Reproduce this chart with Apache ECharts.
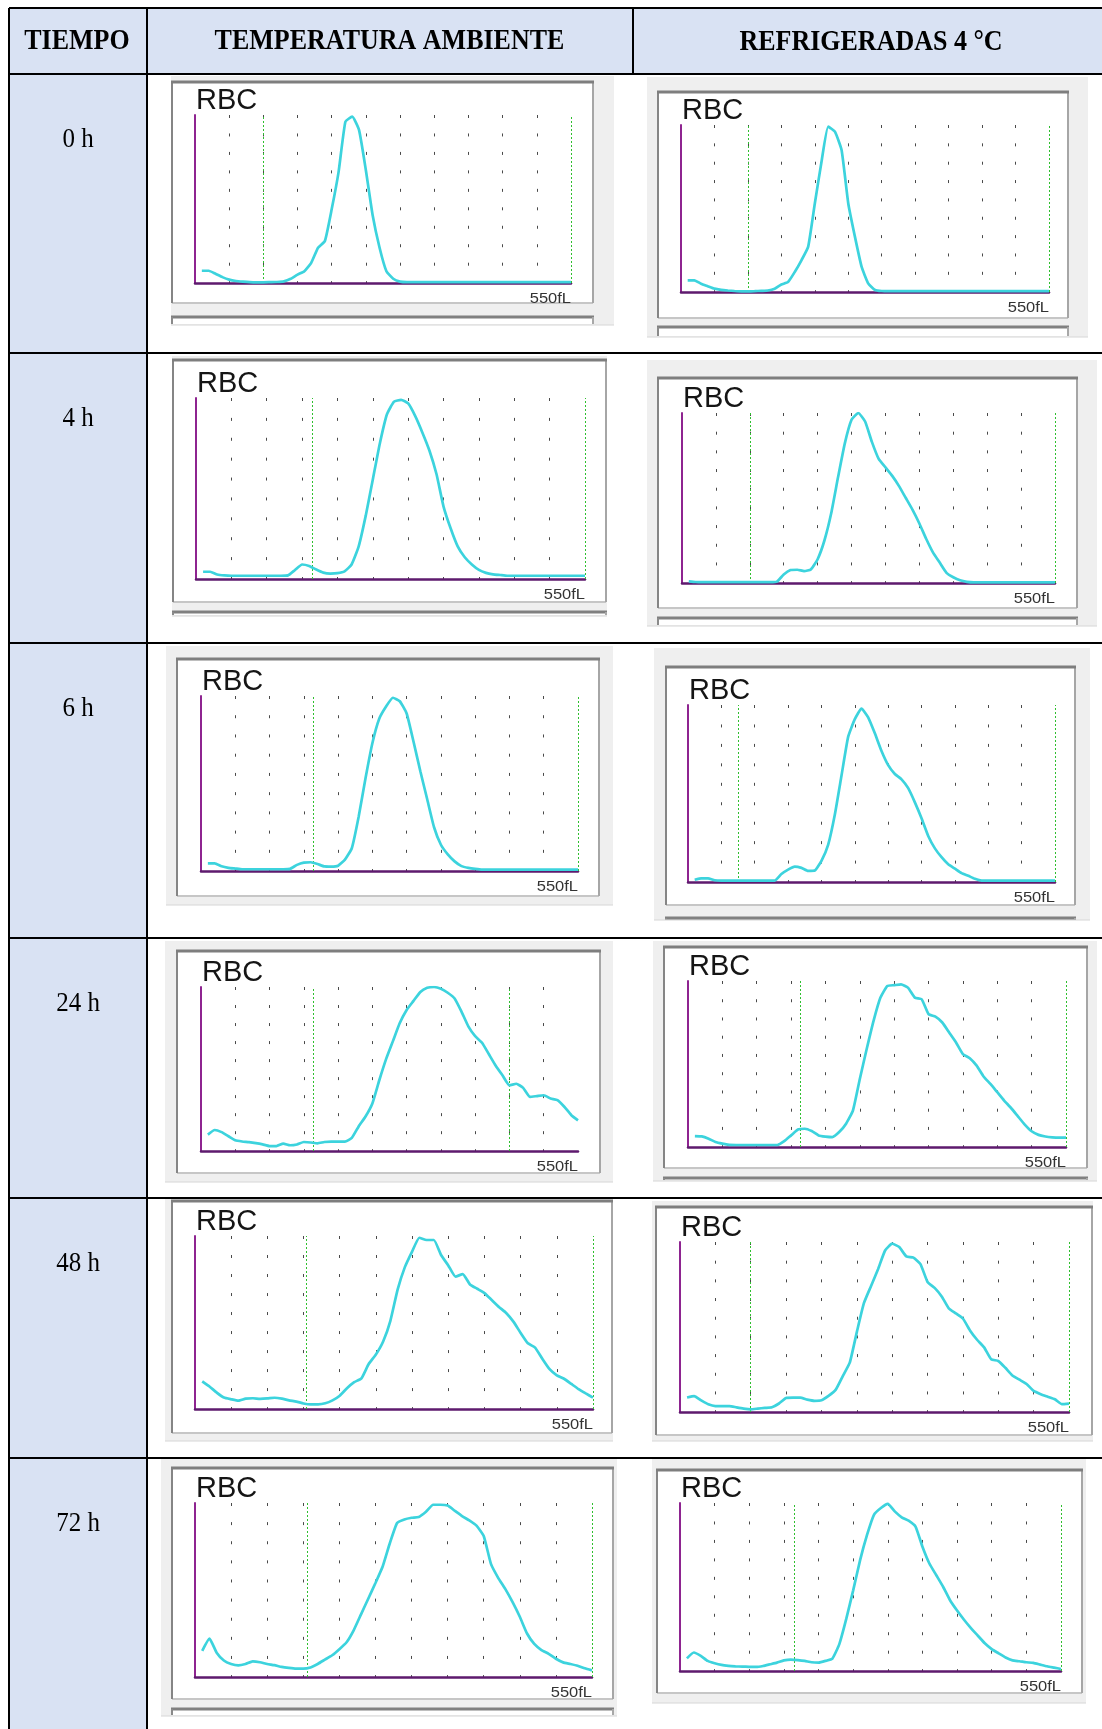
<!DOCTYPE html>
<html>
<head>
<meta charset="utf-8">
<title>Histogramas RBC</title>
<script src="https://cdn.jsdelivr.net/npm/echarts@6/dist/echarts.min.js"></script>
<style>
  html, body { margin: 0; padding: 0; background: #ffffff; }
  #main { width: 1102px; height: 1729px; }
</style>
</head>
<body>
<div id="main"></div>
<script>
// ---- Table texts ----
const encabezados = ['TIEMPO', 'TEMPERATURA AMBIENTE', 'REFRIGERADAS 4 °C'];
const tiempos = ['0 h', '4 h', '6 h', '24 h', '48 h', '72 h'];
const etiquetaHistograma = 'RBC';

// ---- Histogram axis (fL) ----
const volumenMax = 550;
const volumenFl = [10, 20, 30, 40, 50, 60, 70, 80, 90, 100, 110, 120, 130, 140, 150, 160, 170, 180, 190, 200,
  210, 220, 230, 240, 250, 260, 270, 280, 290, 300, 310, 320, 330, 340, 350, 360, 370, 380, 390, 400,
  410, 420, 430, 440, 450, 460, 470, 480, 490, 500, 510, 520, 530, 540, 550];

// ---- Relative frequency (% of peak) at each volumenFl bin ----
const ambiente0h = [7.3, 7.3, 5.5, 3.5, 2, 1.2, 0.8, 0.5, 0.4, 0.4, 0.5, 0.6, 1, 2.5, 5, 7, 12, 21, 25, 44,
  66, 96, 99, 91, 67, 40, 21, 7, 2.5, 0.8, 0.5, 0.5, 0.5, 0.5, 0.5, 0.5, 0.5, 0.5, 0.5, 0.5,
  0.5, 0.5, 0.5, 0.5, 0.5, 0.5, 0.5, 0.5, 0.5, 0.5, 0.5, 0.5, 0.5, 0.5, 0.5];
const refrigeradas0h = [7, 7, 5, 3.5, 2, 1.3, 0.9, 0.6, 0.4, 0.4, 0.5, 0.7, 0.9, 2, 4.5, 6, 12, 19, 27, 53,
  78, 99, 96, 85, 53, 33, 15, 5, 1.2, 0.6, 0.5, 0.5, 0.5, 0.5, 0.5, 0.5, 0.5, 0.5, 0.5, 0.5,
  0.5, 0.5, 0.5, 0.5, 0.5, 0.5, 0.5, 0.5, 0.5, 0.5, 0.5, 0.5, 0.5, 0.5, 0.5];
const ambiente4h = [4, 4, 2.5, 2, 1.8, 1.8, 1.8, 1.8, 1.8, 1.8, 1.8, 1.8, 2, 5, 8, 7.2, 5.2, 3.5, 3, 3.2,
  4.2, 8, 18, 35, 55, 75, 91, 98, 99, 97, 90, 81, 71, 58, 40, 28, 18, 12, 8, 5,
  3.4, 2.6, 2.2, 1.8, 1.8, 1.8, 1.8, 1.8, 1.8, 1.8, 1.8, 1.8, 1.8, 1.8, 1.8];
const refrigeradas4h = [1, 0.6, 0.5, 0.5, 0.5, 0.5, 0.5, 0.5, 0.5, 0.5, 0.5, 0.5, 0.5, 0.8, 5, 7.6, 7.8, 7, 8, 14,
  25, 41, 62, 82, 96, 100, 95, 83, 73, 68, 63, 57, 50, 43, 35, 26, 18, 12, 6, 3.4,
  1.6, 0.7, 0.4, 0.4, 0.4, 0.4, 0.4, 0.4, 0.4, 0.4, 0.4, 0.4, 0.4, 0.4, 0.4];
const ambiente6h = [4.4, 4.4, 2.7, 1.8, 1.4, 1, 1, 1, 1, 1, 1, 1, 1.2, 3.5, 4.8, 5, 4, 2.6, 2.5, 3,
  6.5, 13, 31, 53, 73, 87, 94, 99, 97, 90, 74, 57, 41, 25, 15, 9.5, 5.5, 2.8, 1.8, 1.2,
  0.8, 0.8, 0.8, 0.8, 0.8, 0.8, 0.8, 0.8, 0.8, 0.8, 0.8, 0.8, 0.8, 0.8, 0.8];
const refrigeradas6h = [1.3, 2, 2, 1, 0.8, 0.8, 0.8, 0.8, 0.8, 0.8, 0.8, 0.8, 0.8, 4.5, 7, 8.7, 8, 6.3, 6.5, 12,
  21, 38, 60, 82, 92, 98, 93, 84, 74, 66, 61, 58, 53, 45, 36, 26, 19, 14, 10, 7.5,
  5, 3.5, 1.8, 0.8, 0.8, 0.8, 0.8, 0.8, 0.8, 0.8, 0.8, 0.8, 0.8, 0.8, 0.8];
const ambiente24h = [10, 12.8, 11.5, 9, 6.5, 5.8, 5.4, 4.8, 4, 3, 3, 4.5, 3.5, 4, 5.5, 5.2, 4.7, 5.5, 5.7, 5.7,
  5.7, 8, 15, 21, 29, 43, 56, 67, 78, 86, 91.5, 97, 99.5, 100, 99, 96.5, 93, 85, 76, 70,
  66, 59, 52, 46, 40, 41, 38.5, 33, 33.5, 34, 32, 31, 27, 22, 18.7];
const refrigeradas24h = [6.6, 6.4, 5, 3, 2, 1.3, 1.2, 1.2, 1.2, 1.2, 1.2, 1.2, 1.2, 3.5, 7, 10.5, 11, 9.6, 7, 6.3,
  6, 9, 14, 22, 41, 59, 76, 90, 97, 97.5, 98, 96, 90, 89, 80, 78.5, 75, 69, 63, 56,
  53.5, 49, 42.5, 38, 33, 28, 23.5, 18.5, 13.5, 9.5, 7.3, 6.3, 5.8, 5.6, 5.6];
const ambiente48h = [16, 13, 9.5, 6.6, 5.6, 4.8, 6, 6.2, 5.9, 6.1, 6.5, 6, 5, 4.3, 3.2, 2.7, 2.7, 3.3, 5, 7.7,
  12, 15.5, 17.7, 26, 31.5, 39, 51, 69, 82, 91, 99, 97.7, 97.7, 89, 83, 76.5, 78, 72, 69.5, 67,
  63, 59, 55.5, 50.5, 44, 38, 35.5, 29, 23, 19.5, 17.5, 14.5, 11.5, 9, 6.6];
const refrigeradas48h = [8.5, 9.3, 6.8, 4.5, 3.5, 3.5, 3.5, 2.7, 2, 1.6, 2, 2.4, 2.8, 5, 8.2, 8.4, 8.4, 7.3, 6.6, 6.9,
  9.5, 13, 21, 29, 47, 64, 74, 84, 95, 99, 97, 91.5, 90.8, 87, 76.5, 73, 68, 61, 58, 55,
  48, 42.5, 38, 31, 30, 26, 21.5, 19, 16.5, 12.4, 10.5, 9, 7.5, 4.6, 4.9];
const ambiente72h = [15, 22, 14, 9.5, 7.5, 6.7, 7.5, 9, 8.5, 7.5, 6.8, 5.8, 5.2, 4.8, 4.8, 5.5, 7.5, 10, 12.5, 16,
  20, 27, 36, 45, 54, 63.5, 77, 88.5, 90.5, 91.5, 92, 95, 99, 99, 98.5, 95.5, 92.5, 90, 87, 81,
  65, 57, 50.5, 43, 34.6, 25, 19, 15.5, 13.3, 10.5, 8.4, 7.5, 6.5, 5, 3.8];
const refrigeradas72h = [7.5, 11, 9, 6, 4.6, 3.6, 3.1, 2.8, 2.6, 2.5, 2.4, 3, 4, 5, 6.3, 6.8, 6.5, 6, 5.2, 5,
  6, 7.4, 16, 31, 48, 66, 81, 93, 97, 99.5, 95, 91.5, 89.5, 86, 74, 64, 57, 50, 42, 36,
  30.5, 25.5, 21, 16.5, 13, 10.5, 8, 6.3, 5.8, 5.2, 4.8, 3.8, 2.8, 2, 1.2];

// ---- Discriminator positions (fL) ----
const discriminadoresAmbiente = [[100, 550], [165, 550], [164, 550], [164, 450], [154, 550], [155, 550]];
const discriminadoresRefrigeradas = [[100, 550], [100, 550], [75, 550], [164, 550], [100, 550], [165, 550]];

const curvasAmbiente = [ambiente0h, ambiente4h, ambiente6h, ambiente24h, ambiente48h, ambiente72h];
const curvasRefrigeradas = [refrigeradas0h, refrigeradas4h, refrigeradas6h, refrigeradas24h, refrigeradas48h, refrigeradas72h];

// ---- Page layout (pixels) ----
const tabla = { left: 9, top: 8, right: 1102, bottom: 1729, headerBottom: 74, col1: 147, col2: 633,
  rowTops: [74, 353, 643, 938, 1198, 1458] };

// Each panel: screenshot box, window frame, plot rect [x, y, w, h], top of the next window (or null)
const paneles = [
  { img: [171, 76, 443, 249], frame: [172, 82, 421, 221], plot: [195, 115, 376, 168], plt: 317 },
  { img: [647, 77, 441, 260], frame: [658, 92, 410, 226], plot: [681, 125, 368, 167], plt: 327 },
  { img: [172, 356, 435, 260], frame: [173, 360, 433, 242], plot: [196, 398, 389, 181], plt: 612 },
  { img: [647, 360, 450, 266], frame: [658, 378, 419, 230], plot: [682, 413, 373, 170], plt: 618 },
  { img: [166, 646, 447, 259], frame: [177, 659, 422, 237], plot: [201, 696, 377, 175], plt: null },
  { img: [654, 648, 436, 272], frame: [666, 667, 409, 238], plot: [688, 705, 367, 177], plt: 918 },
  { img: [165, 941, 448, 241], frame: [177, 951, 423, 222], plot: [201, 987, 377, 164], plt: null },
  { img: [653, 941, 444, 240], frame: [664, 947, 423, 221], plot: [688, 981, 378, 166], plt: 1178 },
  { img: [165, 1199, 448, 242], frame: [172, 1201, 440, 232], plot: [195, 1236, 398, 173], plt: null },
  { img: [652, 1201, 441, 240], frame: [656, 1207, 436, 228], plot: [680, 1242, 389, 170], plt: null },
  { img: [161, 1459, 456, 257], frame: [172, 1468, 441, 231], plot: [195, 1503, 397, 174], plt: 1709 },
  { img: [652, 1459, 434, 244], frame: [657, 1470, 425, 223], plot: [680, 1503, 381, 168], plt: null }
];

const SERIF = '"Liberation Serif", "Times New Roman", serif';
const SANS = '"Liberation Sans", Arial, sans-serif';

const graphics = [];
function line(x1, y1, x2, y2, stroke, lineWidth, z) {
  graphics.push({ type: 'line', shape: { x1, y1, x2, y2 }, style: { stroke, lineWidth }, z, silent: true });
}
function rect(x, y, width, height, fill, z) {
  graphics.push({ type: 'rect', shape: { x, y, width, height }, style: { fill }, z, silent: true });
}

// Table shading
rect(tabla.left, tabla.top, tabla.right - tabla.left, tabla.headerBottom - tabla.top, '#d9e2f3', -40);
rect(tabla.left, tabla.headerBottom, tabla.col1 - tabla.left, tabla.bottom - tabla.headerBottom, '#d9e2f3', -40);

// Table rules
line(tabla.left, tabla.top, tabla.right, tabla.top, '#000', 2, -35);
line(tabla.left, tabla.headerBottom, tabla.right, tabla.headerBottom, '#000', 2, -35);
tabla.rowTops.slice(1).forEach(y => line(tabla.left, y, tabla.right, y, '#000', 2, -35));
line(tabla.left, tabla.top, tabla.left, tabla.bottom, '#000', 2, -35);
line(tabla.col1, tabla.top, tabla.col1, tabla.bottom, '#000', 2, -35);
line(tabla.col2, tabla.top, tabla.col2, tabla.headerBottom, '#000', 2, -35);

// Header texts
const headerCenters = [[77, 42], [389.5, 42], [871, 43]];
encabezados.forEach((t, i) => {
  graphics.push({
    type: 'text', x: headerCenters[i][0], y: headerCenters[i][1], scaleY: 1.1, z: 60, silent: true,
    style: { text: t, fontFamily: SERIF, fontWeight: 'bold', fontSize: 26, fill: '#000',
      align: 'center', verticalAlign: 'middle' }
  });
});

// Row labels
tiempos.forEach((t, r) => {
  graphics.push({
    type: 'text', x: 78, y: tabla.rowTops[r] + 66, scaleY: 1.08, z: 60, silent: true,
    style: { text: t, fontFamily: SERIF, fontSize: 25, fill: '#000', align: 'center', verticalAlign: 'middle' }
  });
});

const grids = [], xAxes = [], yAxes = [], series = [];

paneles.forEach((p, idx) => {
  const row = Math.floor(idx / 2);
  const esRefrigerada = idx % 2 === 1;
  const curva = esRefrigerada ? curvasRefrigeradas[row] : curvasAmbiente[row];
  const disc = esRefrigerada ? discriminadoresRefrigeradas[row] : discriminadoresAmbiente[row];
  const [ix, iy, iw, ih] = p.img;
  const [fx, fy, fw, fh] = p.frame;
  const [px, py, pw, ph] = p.plot;

  // screenshot background
  rect(ix, iy, iw, ih, '#efefef', -30);
  line(ix, iy + ih, ix + iw, iy + ih, '#d6d6d6', 1, -29);

  // next analyser window peeking at the bottom
  if (p.plt !== null) {
    const bottom = iy + ih - 1;
    rect(fx, p.plt, fw, bottom - p.plt, '#ffffff', -28);
    line(fx - 1, p.plt, fx + fw + 1, p.plt, '#808080', 3, -27);
    line(fx, p.plt, fx, bottom, '#8a8a8a', 2, -27);
    line(fx + fw, p.plt, fx + fw, bottom, '#a8a8a8', 2, -27);
  }

  // window frame with bevelled edges
  rect(fx, fy, fw, fh, '#ffffff', -26);
  line(fx, fy + fh, fx + fw, fy + fh, '#c6c6c6', 2, -25);
  line(fx + fw, fy, fx + fw, fy + fh, '#a6a6a6', 2, -25);
  line(fx, fy, fx, fy + fh, '#858585', 2, -25);
  line(fx - 1, fy, fx + fw + 1, fy, '#7e7e7e', 3, -25);

  // labels
  graphics.push({
    type: 'text', x: px + 1, y: py - 14, z: 60, silent: true,
    style: { text: etiquetaHistograma, fontFamily: SANS, fontSize: 29, fill: '#151515',
      align: 'left', verticalAlign: 'middle' }
  });
  graphics.push({
    type: 'text', x: px + pw, y: py + ph + 15.5, scaleX: 1.1, z: 60, silent: true,
    style: { text: volumenMax + 'fL', fontFamily: SANS, fontSize: 15, fill: '#333333',
      align: 'right', verticalAlign: 'middle' }
  });

  grids.push({ left: px, top: py, width: pw, height: ph, containLabel: false, show: false });

  const period = ph / 9.1;
  xAxes.push({
    type: 'value', gridIndex: idx, min: 0, max: volumenMax, interval: 50,
    axisLine: { show: true, onZero: false, lineStyle: { color: '#5e1a6e', width: 2.5 } },
    axisTick: { show: false }, axisLabel: { show: false },
    splitLine: { show: true, showMinLine: false, showMaxLine: false,
      lineStyle: { color: '#4a4a4a', width: 1, type: [3, period - 3] } }
  });
  yAxes.push({
    type: 'value', gridIndex: idx, min: 0, max: 100,
    axisLine: { show: true, onZero: false, lineStyle: { color: '#8e2490', width: 2 } },
    axisTick: { show: false }, axisLabel: { show: false }, splitLine: { show: false }
  });

  series.push({
    type: 'line', xAxisIndex: idx, yAxisIndex: idx,
    data: volumenFl.map((v, k) => [v, curva[k]]),
    showSymbol: false, symbol: 'none', smooth: 0.15, silent: true, z: 10,
    lineStyle: { color: '#3cd3dd', width: 2.7 },
    markLine: {
      silent: true, symbol: 'none', label: { show: false }, animation: false,
      lineStyle: { color: '#2fbf2f', width: 1, type: [2, 2] },
      data: disc.map(d => ({ xAxis: d }))
    }
  });
});

const chart = echarts.init(document.getElementById('main'), null, { renderer: 'canvas', width: 1102, height: 1729 });
chart.setOption({
  animation: false,
  backgroundColor: '#ffffff',
  grid: grids,
  xAxis: xAxes,
  yAxis: yAxes,
  series: series,
  graphic: { elements: graphics }
});
</script>
</body>
</html>
